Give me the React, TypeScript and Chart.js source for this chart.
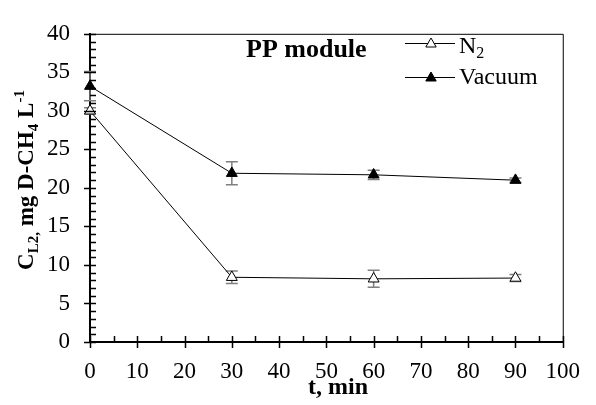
import React, { useEffect, useRef } from "react";
import { Chart, registerables } from "chart.js";

Chart.register(...registerables);

const times = [0, 30, 60, 90];
const n2Values = [30.0, 8.4, 8.2, 8.3];
const n2Errors = [0.4, 0.8, 1.1, 0.45];
const vacuumValues = [33.2, 21.9, 21.7, 21.0];
const vacuumErrors = [1.9, 1.5, 0.6, 0.3];

const xMin = 0;
const xMax = 100;
const xStep = 10;
const xMinorStep = 5;
const yMin = 0;
const yMax = 40;
const yStep = 5;
const yMinorStep = 1;

const seriesLabels = ["N2", "Vacuum"];
const panelTitle = "PP module";
const xTitle = "t, min";

const FONT = "'Liberation Serif', 'Times New Roman', serif";

type Seg = { t: string; s?: number; dy?: number };

function drawRich(ctx: CanvasRenderingContext2D, segs: Seg[], x: number, y: number, size: number, bold: boolean, align: "left" | "center") {
  const widths = segs.map((sg) => {
    ctx.font = `${bold ? "bold " : ""}${Math.round(size * (sg.s ?? 1))}px ${FONT}`;
    return ctx.measureText(sg.t).width;
  });
  const total = widths.reduce((a, b) => a + b, 0);
  let cx = align === "center" ? x - total / 2 : x;
  ctx.textAlign = "left";
  ctx.textBaseline = "alphabetic";
  segs.forEach((sg, i) => {
    ctx.font = `${bold ? "bold " : ""}${Math.round(size * (sg.s ?? 1))}px ${FONT}`;
    ctx.fillText(sg.t, cx, y + (sg.dy ?? 0) * size);
    cx += widths[i];
  });
}

function triangle(ctx: CanvasRenderingContext2D, x: number, y: number, r: number, filled: boolean) {
  ctx.beginPath();
  let rad = 0;
  ctx.moveTo(x + Math.sin(rad) * r, y - Math.cos(rad) * r);
  rad += (2 * Math.PI) / 3;
  ctx.lineTo(x + Math.sin(rad) * r, y - Math.cos(rad) * r);
  rad += (2 * Math.PI) / 3;
  ctx.lineTo(x + Math.sin(rad) * r, y - Math.cos(rad) * r);
  ctx.closePath();
  ctx.fillStyle = filled ? "#000" : "#fff";
  ctx.fill();
  ctx.strokeStyle = "#000";
  ctx.lineWidth = 1;
  ctx.stroke();
}

const decorPlugin = {
  id: "decor",
  beforeDatasetsDraw(chart: any) {
    const ctx = chart.ctx as CanvasRenderingContext2D;
    const xs = chart.scales.x;
    const ys = chart.scales.y;
    const errs = [n2Errors, vacuumErrors];
    const vals = [n2Values, vacuumValues];
    ctx.save();
    ctx.strokeStyle = "#7f7f7f";
    ctx.lineWidth = 1.5;
    for (let d = 0; d < 2; d++) {
      times.forEach((t, i) => {
        const px = xs.getPixelForValue(t);
        const top = ys.getPixelForValue(vals[d][i] + errs[d][i]);
        const bot = ys.getPixelForValue(vals[d][i] - errs[d][i]);
        ctx.beginPath();
        ctx.moveTo(px, top);
        ctx.lineTo(px, bot);
        ctx.moveTo(px - 6, top);
        ctx.lineTo(px + 6, top);
        ctx.moveTo(px - 6, bot);
        ctx.lineTo(px + 6, bot);
        ctx.stroke();
      });
    }
    ctx.restore();
  },
  afterDraw(chart: any) {
    const ctx = chart.ctx as CanvasRenderingContext2D;
    const xs = chart.scales.x;
    const ys = chart.scales.y;
    const a = chart.chartArea;
    ctx.save();
    ctx.strokeStyle = "#000";
    ctx.lineWidth = 1;
    ctx.beginPath();
    ctx.moveTo(a.left, a.top + 0.5);
    ctx.lineTo(a.right + 0.5, a.top + 0.5);
    ctx.lineTo(a.right + 0.5, a.bottom);
    ctx.stroke();
    ctx.lineWidth = 1.5;
    ctx.beginPath();
    for (let v = xMin; v <= xMax + 1e-9; v += xMinorStep) {
      const px = Math.round(xs.getPixelForValue(v)) + 0.5;
      const major = Math.abs(v / xStep - Math.round(v / xStep)) < 1e-9;
      ctx.moveTo(px, a.bottom - 6);
      ctx.lineTo(px, a.bottom + (major ? 6 : 0));
    }
    for (let v = yMin; v <= yMax + 1e-9; v += yMinorStep) {
      const py = Math.round(ys.getPixelForValue(v)) + 0.5;
      const major = Math.abs(v / yStep - Math.round(v / yStep)) < 1e-9;
      ctx.moveTo(a.left + 6, py);
      ctx.lineTo(a.left - (major ? 6 : 0), py);
    }
    ctx.stroke();
    ctx.fillStyle = "#000";
    drawRich(ctx, [{ t: xTitle }], 338, 394, 24, true, "center");
    ctx.save();
    ctx.translate(33, 180);
    ctx.rotate(-Math.PI / 2);
    drawRich(
      ctx,
      [
        { t: "C" },
        { t: "L2,", s: 0.65, dy: 0.22 },
        { t: " mg D-CH" },
        { t: "4", s: 0.65, dy: 0.22 },
        { t: " L" },
        { t: "-1", s: 0.65, dy: -0.38 },
      ],
      0,
      0,
      23,
      true,
      "center"
    );
    ctx.restore();
    ctx.fillStyle = "#000";
    drawRich(ctx, [{ t: panelTitle }], 246, 57, 26, true, "left");
    const rows = [
      { y: 43, base: 53, filled: false, segs: [{ t: "N" }, { t: "2", s: 0.65, dy: 0.22 }] as Seg[] },
      { y: 77, base: 84, filled: true, segs: [{ t: seriesLabels[1] }] as Seg[] },
    ];
    rows.forEach((r) => {
      ctx.strokeStyle = "#000";
      ctx.lineWidth = 1;
      ctx.beginPath();
      ctx.moveTo(405, r.y + 0.5);
      ctx.lineTo(455, r.y + 0.5);
      ctx.stroke();
      triangle(ctx, 431, r.y + 1, 6, r.filled);
      ctx.fillStyle = "#000";
      drawRich(ctx, r.segs, 459, r.base, 24, false, "left");
    });
    ctx.restore();
  },
};

export default function App() {
  const ref = useRef<HTMLCanvasElement | null>(null);
  useEffect(() => {
    if (!ref.current) return;
    Chart.defaults.font.family = FONT;
    const chart = new Chart(ref.current, {
      type: "line",
      data: {
        datasets: [
          {
            label: seriesLabels[0],
            data: times.map((t, i) => ({ x: t, y: n2Values[i] })),
            borderColor: "#000",
            borderWidth: 1,
            pointStyle: "triangle",
            pointRadius: 6.3,
            pointBackgroundColor: "#fff",
            pointBorderColor: "#000",
            pointBorderWidth: 1,
            tension: 0,
            clip: false as any,
          },
          {
            label: seriesLabels[1],
            data: times.map((t, i) => ({ x: t, y: vacuumValues[i] })),
            borderColor: "#000",
            borderWidth: 1,
            pointStyle: "triangle",
            pointRadius: 6.3,
            pointBackgroundColor: "#000",
            pointBorderColor: "#000",
            pointBorderWidth: 1,
            tension: 0,
            clip: false as any,
          },
        ],
      },
      options: {
        responsive: false,
        animation: false,
        events: [],
        layout: { padding: { left: 0, top: 16, right: 29, bottom: 0 } },
        plugins: { legend: { display: false }, tooltip: { enabled: false } },
        scales: {
          x: {
            type: "linear",
            min: xMin,
            max: xMax,
            afterFit: (s: any) => {
              s.height = 63;
            },
            grid: { display: false, drawTicks: false },
            border: { display: true, color: "#000", width: 2 },
            ticks: {
              stepSize: xStep,
              padding: 16,
              color: "#000",
              font: { family: FONT, size: 23 },
              maxRotation: 0,
            },
          },
          y: {
            type: "linear",
            min: yMin,
            max: yMax,
            afterFit: (s: any) => {
              s.width = 90;
            },
            grid: { display: false, drawTicks: false },
            border: { display: true, color: "#000", width: 2 },
            ticks: {
              stepSize: yStep,
              padding: 20,
              color: "#000",
              font: { family: FONT, size: 23 },
            },
          },
        },
      },
      plugins: [decorPlugin],
    });
    let alive = true;
    const fonts = (document as any).fonts;
    if (fonts && fonts.load) {
      Promise.all([
        fonts.load(`23px 'Liberation Serif'`),
        fonts.load(`bold 24px 'Liberation Serif'`),
      ]).then(() => {
        if (alive) chart.update();
      }).catch(() => {});
    }
    return () => {
      alive = false;
      chart.destroy();
    };
  }, []);
  return (
    <div style={{ position: "fixed", left: 0, top: 0, width: 596, height: 405, background: "#fff" }}>
      <canvas ref={ref} width={596} height={405} style={{ width: 596, height: 405, display: "block" }} />
    </div>
  );
}
